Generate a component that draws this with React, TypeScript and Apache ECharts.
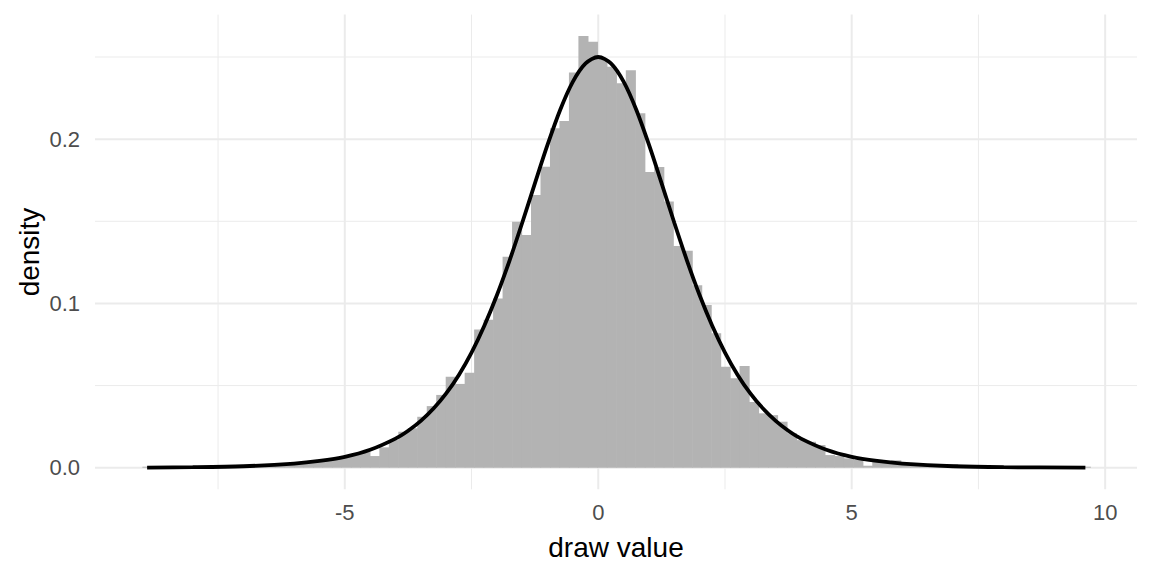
import React, { useEffect, useRef } from "react";
import * as echarts from "echarts";

// Histogram bins (density per bin), bin geometry
const binStart = -8.9935;
const binWidth = 0.187;
const binDensity = [
  0.0006, 0, 0, 0.0006, 0, 0.0006, 0, 0.0006, 0.0006, 0.0011,
  0.0006, 0.0011, 0.0011, 0.0017, 0.0017, 0.0022, 0.0028, 0.0033, 0.0039, 0.0045,
  0.0056, 0.0067, 0.0082, 0.0098, 0.0071, 0.0124, 0.0168, 0.0219, 0.024, 0.031,
  0.0375, 0.0443, 0.0554, 0.051, 0.0578, 0.0842, 0.09, 0.103, 0.1284, 0.1497,
  0.1416, 0.166, 0.1832, 0.2066, 0.211, 0.2406, 0.2627, 0.2593, 0.249, 0.244,
  0.234, 0.242, 0.2157, 0.18, 0.183, 0.162, 0.135, 0.132, 0.111, 0.099,
  0.0818, 0.0615, 0.0544, 0.0619, 0.04, 0.0331, 0.032, 0.028, 0.021, 0.0168,
  0.0158, 0.0138, 0.0077, 0.0071, 0.0057, 0.0047, 0.0012, 0.0037, 0.003, 0.0045,
  0.0022, 0.0022, 0.0011, 0.0011, 0.0011, 0.0022, 0.0017, 0.0006, 0.0011, 0,
  0.0006, 0, 0.0006, 0.0006, 0, 0, 0, 0, 0, 0.0006,
];

// Density curve
const curveX = [
  -8.9, -8, -7, -6, -5.5, -5, -4.5, -4, -3.75, -3.5, -3.25, -3, -2.75, -2.5, -2.25, -2,
  -1.75, -1.5, -1.25, -1, -0.75, -0.5, -0.25, 0, 0.25, 0.5, 0.75, 1, 1.25, 1.5, 1.75, 2,
  2.25, 2.5, 2.75, 3, 3.25, 3.5, 3.75, 4, 4.5, 5, 5.5, 6, 7, 8, 9.61,
];
const curveY = [
  0.0001, 0.0003, 0.0009, 0.0025, 0.0041, 0.0066, 0.0109, 0.0177, 0.0225, 0.0285, 0.036, 0.0452, 0.0565, 0.0701, 0.0863, 0.105,
  0.1261, 0.1491, 0.1731, 0.1966, 0.2179, 0.235, 0.2461, 0.25, 0.2461, 0.235, 0.2179, 0.1966, 0.1731, 0.1491, 0.1261, 0.105,
  0.0863, 0.0701, 0.0565, 0.0452, 0.036, 0.0285, 0.0225, 0.0177, 0.0109, 0.0066, 0.0041, 0.0025, 0.0009, 0.0003, 0.0001,
];

// Axis ticks
const xMajor = [-5, 0, 5, 10];
const xMinor = [-7.5, -2.5, 2.5, 7.5];
const yMajor = [0, 0.1, 0.2];
const yMinor = [0.05, 0.15, 0.25];

const X_MIN = -9.928;
const X_MAX = 10.628;
const Y_MIN = -0.01314;
const Y_MAX = 0.2758;

const FONT = "'Liberation Sans', Arial, sans-serif";

export default function App() {
  const ref = useRef<HTMLDivElement>(null);
  useEffect(() => {
    document.body.style.margin = "0";
    if (!ref.current) return;
    const chart = echarts.init(ref.current, null, { renderer: "svg" });

    const barData = binDensity.map((d, i) => [binStart + i * binWidth, binStart + (i + 1) * binWidth, d]);
    const vGrid = [
      ...xMajor.map((v) => [v, Y_MIN, 1]),
      ...xMinor.map((v) => [v, Y_MIN, 0]),
    ];
    const hGrid = [
      ...yMajor.map((v) => [X_MIN, v, 1]),
      ...yMinor.map((v) => [X_MIN, v, 0]),
    ];

    chart.setOption({
      animation: false,
      grid: { left: 95, right: 15, top: 14.6, bottom: 86.7, containLabel: false },
      xAxis: {
        type: "value",
        min: X_MIN,
        max: X_MAX,
        axisLine: { show: false },
        axisTick: { show: false },
        splitLine: { show: false },
        axisLabel: {
          customValues: xMajor,
          formatter: (v: number) => String(v),
          fontSize: 22,
          color: "#4D4D4D",
          fontFamily: FONT,
          margin: 12,
        },
      },
      yAxis: {
        type: "value",
        min: Y_MIN,
        max: Y_MAX,
        axisLine: { show: false },
        axisTick: { show: false },
        splitLine: { show: false },
        axisLabel: {
          customValues: yMajor,
          formatter: (v: number) => v.toFixed(1),
          fontSize: 22,
          color: "#4D4D4D",
          fontFamily: FONT,
          margin: 15,
        },
      },
      graphic: [
        {
          type: "text",
          x: 616,
          y: 547,
          style: {
            text: "draw value",
            fontSize: 28,
            fontFamily: FONT,
            fill: "#000000",
            align: "center",
            verticalAlign: "middle",
          },
        },
        {
          type: "text",
          x: 29,
          y: 252,
          rotation: Math.PI / 2,
          style: {
            text: "density",
            fontSize: 28,
            fontFamily: FONT,
            fill: "#000000",
            align: "center",
            verticalAlign: "middle",
          },
        },
      ],
      series: [
        {
          type: "custom",
          z: 0,
          silent: true,
          data: vGrid,
          encode: { x: 0, y: 1 },
          renderItem: (params: any, api: any) => {
            const v = api.value(0);
            const p0 = api.coord([v, Y_MIN]);
            const p1 = api.coord([v, Y_MAX]);
            return {
              type: "line",
              shape: { x1: p0[0], y1: p0[1], x2: p1[0], y2: p1[1] },
              style: { stroke: "#EBEBEB", lineWidth: api.value(2) ? 2 : 1 },
            };
          },
        },
        {
          type: "custom",
          z: 0,
          silent: true,
          data: hGrid,
          encode: { x: 0, y: 1 },
          renderItem: (params: any, api: any) => {
            const v = api.value(1);
            const p0 = api.coord([X_MIN, v]);
            const p1 = api.coord([X_MAX, v]);
            return {
              type: "line",
              shape: { x1: p0[0], y1: p0[1], x2: p1[0], y2: p1[1] },
              style: { stroke: "#EBEBEB", lineWidth: api.value(2) ? 2 : 1 },
            };
          },
        },
        {
          type: "custom",
          z: 2,
          silent: true,
          data: barData,
          encode: { x: [0, 1], y: 2 },
          renderItem: (params: any, api: any) => {
            const d = api.value(2);
            if (!d) return null;
            const p0 = api.coord([api.value(0), d]);
            const p1 = api.coord([api.value(1), 0]);
            return {
              type: "rect",
              shape: { x: p0[0], y: p0[1], width: p1[0] - p0[0] + 0.6, height: p1[1] - p0[1] },
              style: { fill: "#B3B3B3" },
            };
          },
        },
        {
          type: "line",
          z: 3,
          silent: true,
          data: curveX.map((x, i) => [x, curveY[i]]),
          showSymbol: false,
          symbol: "none",
          smooth: 0.3,
          lineStyle: { color: "#000000", width: 3.8 },
        },
      ],
    });
    return () => chart.dispose();
  }, []);
  return <div ref={ref} style={{ width: 1152, height: 576 }} />;
}
